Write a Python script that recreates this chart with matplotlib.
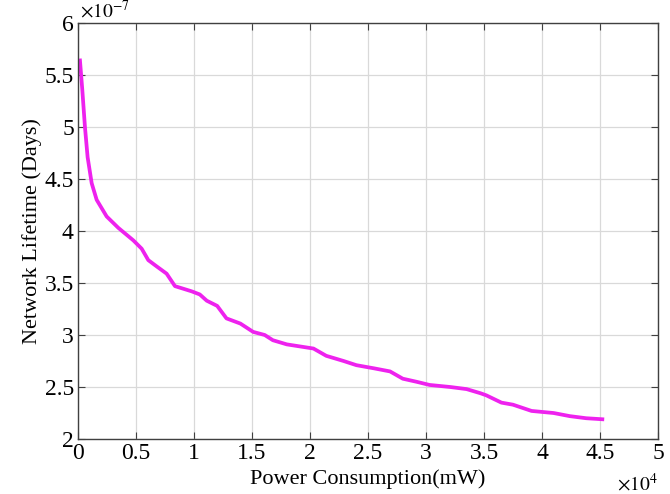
import matplotlib.pyplot as plt
from matplotlib.ticker import FuncFormatter, MultipleLocator
import numpy as np

# power consumption (mW) and network lifetime (days)
power = [170, 370, 600, 830, 1180, 1610, 2470, 3480, 4770, 5490, 6060,
         6780, 7640, 8360, 9800, 10500, 11100, 12000, 12800, 14000,
         15100, 16100, 16800, 18000, 20300, 21400, 22600, 22900, 24000,
         25500, 26900, 28000, 29200, 30300, 32100, 33500, 34700, 35200,
         36500, 37500, 39100, 41000, 42400, 43800, 45200]
lifetime = [5.64, 5.36, 5.00, 4.71, 4.46, 4.30, 4.14, 4.03, 3.91, 3.83, 3.72,
            3.66, 3.59, 3.47, 3.42, 3.39, 3.33, 3.28, 3.16, 3.11,
            3.03, 3.00, 2.95, 2.91, 2.87, 2.80, 2.76, 2.75, 2.71,
            2.68, 2.65, 2.58, 2.55, 2.52, 2.50, 2.48, 2.44, 2.42,
            2.35, 2.33, 2.27, 2.25, 2.22, 2.20, 2.19]
lifetime = [v * 1e-7 for v in lifetime]

plt.rcParams['font.family'] = 'Liberation Serif'
plt.rcParams['mathtext.fontset'] = 'stix'

fig = plt.figure(figsize=(6.7, 4.94), dpi=100)
ax = fig.add_axes([0.1164, 0.1113, 0.8657, 0.8421])

ax.plot(power, lifetime, color='#ee22ee', lw=2.7)

ax.set_xlim(0, 5e4)
ax.set_ylim(2e-7, 6e-7)
ax.xaxis.set_major_locator(MultipleLocator(5e3))
ax.yaxis.set_major_locator(MultipleLocator(0.5e-7))
ax.xaxis.set_major_formatter(FuncFormatter(lambda v, p: '%g' % round(v / 1e4, 2)))
ax.yaxis.set_major_formatter(FuncFormatter(lambda v, p: '%g' % round(v / 1e-7, 2)))

ax.grid(True, color='#d9d9d9', lw=0.9)
ax.set_axisbelow(True)
for s in ax.spines.values():
    s.set_color('#404040')
    s.set_linewidth(1.0)
ax.tick_params(direction='in', length=5, width=0.8, colors='#404040',
               labelcolor='black', labelsize=17, top=True, right=True, pad=3)

ax.set_xlabel('Power Consumption(mW)', fontsize=16, labelpad=4)
ax.set_ylabel('Network Lifetime (Days)', fontsize=16, labelpad=2)

ax.text(0.004, 1.003, r'$\times10^{-7}$', transform=ax.transAxes,
        fontsize=14, ha='left', va='bottom')
ax.text(1.0, -0.108, r'$\times10^{4}$', transform=ax.transAxes,
        fontsize=14, ha='right', va='center')

fig.savefig('out.png', dpi=100)
